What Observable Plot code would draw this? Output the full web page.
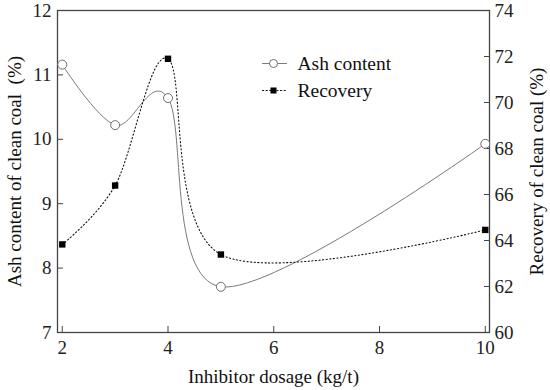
<!DOCTYPE html>
<html><head><meta charset="utf-8">
<script src="https://cdn.jsdelivr.net/npm/d3@7"></script>
<script src="https://cdn.jsdelivr.net/npm/@observablehq/plot@0.6"></script>
<style>body{margin:0;background:#fff}</style>
</head><body><div id="chart"></div>
<script>
const dosage = [2, 3, 4, 5, 10];
const ashContent = [11.16, 10.22, 10.64, 7.71, 9.93];
const recovery = [63.83, 66.39, 71.9, 63.39, 64.46];
const xTicks = [2, 4, 6, 8, 10];
const ashTicks = [7, 8, 9, 10, 11, 12];
const recoveryTicks = [60, 62, 64, 66, 68, 70, 72, 74];
const seriesNames = ["Ash content", "Recovery"];
const xTitle = "Inhibitor dosage (kg/t)";
const leftTitle = "Ash content of clean coal\u00a0 (%)";
const rightTitle = "Recovery of clean coal (%)";

const ashDomain = [7, 12], recDomain = [60, 74];
const recToAsh = r => ashDomain[0] + (r - recDomain[0]) * (ashDomain[1] - ashDomain[0]) / (recDomain[1] - recDomain[0]);
const ashToRec = a => recDomain[0] + (a - ashDomain[0]) * (recDomain[1] - recDomain[0]) / (ashDomain[1] - ashDomain[0]);

const ashData = dosage.map((d, i) => ({x: d, y: ashContent[i]}));
const recData = dosage.map((d, i) => ({x: d, y: recToAsh(recovery[i])}));

const lineShape = {draw(ctx, l) { ctx.moveTo(0, 0); ctx.lineTo(0, -l); }};
const dash = "1.2,2.4";
const font = "'Liberation Serif', 'Times New Roman', serif";
const fs = 19;

const chart = Plot.plot({
  width: 550, height: 390,
  marginLeft: 57, marginRight: 61, marginTop: 10, marginBottom: 58,
  style: {fontFamily: font, fontSize: fs + "px", color: "#222", background: "white"},
  x: {domain: [1.91, 10.08]},
  y: {domain: ashDomain},
  marks: [
    Plot.frame({stroke: "#444", strokeWidth: 1.3}),
    Plot.axisX(xTicks, {tickSize: 6, insetBottom: 6, tickPadding: 8, label: null, fontSize: fs, stroke: "#444", tickFormat: d => String(d)}),
    Plot.axisY(ashTicks, {anchor: "left", tickSize: 6, insetLeft: 6, tickPadding: 6, label: null, fontSize: fs, stroke: "#444", tickFormat: d => String(d)}),
    Plot.axisY(recoveryTicks.map(recToAsh), {anchor: "right", tickSize: 6, insetRight: 6, tickPadding: 5, label: null, fontSize: fs, stroke: "#444",
      tickFormat: a => String(Math.round(ashToRec(a)))}),
    Plot.line(ashData, {x: "x", y: "y", curve: "catmull-rom", tension: 0, stroke: "#7a7a7a", strokeWidth: 1}),
    Plot.line(recData, {x: "x", y: "y", curve: "catmull-rom", tension: 0, stroke: "#111", strokeWidth: 1.1, strokeDasharray: dash}),
    Plot.dot(ashData, {x: "x", y: "y", r: 4.5, stroke: "#6e6e6e", fill: "white", strokeWidth: 1}),
    Plot.dot(recData, {x: "x", y: "y", symbol: "square", r: 3.6, fill: "#000", stroke: "none"}),
    // legend
    Plot.vector([seriesNames[0]], {frameAnchor: "top-left", dx: 205, dy: 53, length: 24, rotate: 90, anchor: "start", shape: lineShape, stroke: "#7a7a7a", strokeWidth: 1}),
    Plot.dot([seriesNames[0]], {frameAnchor: "top-left", dx: 216, dy: 53, r: 4, stroke: "#6e6e6e", fill: "white", strokeWidth: 1}),
    Plot.text([seriesNames[0]], {text: d => d, frameAnchor: "top-left", dx: 240, dy: 53, textAnchor: "start", lineAnchor: "middle", fontSize: 19.5, fill: "#111"}),
    Plot.vector([seriesNames[1]], {frameAnchor: "top-left", dx: 205, dy: 80, length: 24, rotate: 90, anchor: "start", shape: lineShape, stroke: "#111", strokeWidth: 1.1, strokeDasharray: dash}),
    Plot.dot([seriesNames[1]], {frameAnchor: "top-left", dx: 216, dy: 80, symbol: "square", r: 3.4, fill: "#000", stroke: "none"}),
    Plot.text([seriesNames[1]], {text: d => d, frameAnchor: "top-left", dx: 240, dy: 80, textAnchor: "start", lineAnchor: "middle", fontSize: 19.5, fill: "#111"}),
    // axis titles
    Plot.text([xTitle], {text: d => d, frameAnchor: "bottom", dy: 44, textAnchor: "middle", lineAnchor: "middle", fontSize: 19, fill: "#111"}),
    Plot.text([leftTitle], {text: d => d, frameAnchor: "left", rotate: -90, dx: -43, textAnchor: "middle", lineAnchor: "middle", fontSize: 19, fill: "#111"}),
    Plot.text([rightTitle], {text: d => d, frameAnchor: "right", rotate: -90, dx: 47, textAnchor: "middle", lineAnchor: "middle", fontSize: 19, fill: "#111"})
  ]
});
document.getElementById("chart").append(chart);
</script>
</body></html>
